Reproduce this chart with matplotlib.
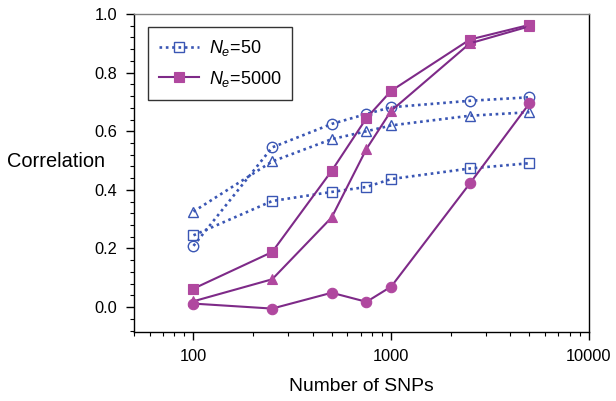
import numpy as np
import matplotlib
matplotlib.use('Agg')
import matplotlib.pyplot as plt
from matplotlib.lines import Line2D
from matplotlib.ticker import FixedLocator, MultipleLocator, NullFormatter

plt.rcParams['font.family'] = 'Liberation Sans'
plt.rcParams['mathtext.fontset'] = 'custom'
plt.rcParams['mathtext.rm'] = 'Liberation Sans'
plt.rcParams['mathtext.it'] = 'Liberation Sans:italic'

snps = [100, 250, 500, 750, 1000, 2500, 5000]

# Ne = 50 (open markers, dotted)
ne50_square = [0.245, 0.362, 0.393, 0.410, 0.437, 0.473, 0.491]
ne50_circle = [0.209, 0.545, 0.625, 0.659, 0.682, 0.704, 0.716]
ne50_triangle = [0.326, 0.497, 0.573, 0.600, 0.620, 0.653, 0.665]

# Ne = 5000 (filled markers, solid)
ne5000_square = [0.063, 0.188, 0.465, 0.645, 0.738, 0.913, 0.963]
ne5000_triangle = [0.020, 0.095, 0.306, 0.540, 0.670, 0.900, 0.958]
ne5000_circle = [0.012, -0.005, 0.049, 0.018, 0.070, 0.422, 0.695]

blue = '#3a56b4'
purple_line = '#7e2a88'
purple_fill = '#b0489f'

fig = plt.figure(figsize=(6.16, 4.01), dpi=100)
ax = fig.add_axes([0.2175, 0.172, 0.7385, 0.793])

dot_style = dict(color=blue, linestyle=(0, (1, 1.4)), linewidth=1.9,
                 markerfacecolor='none', markeredgecolor=blue,
                 markeredgewidth=1.0, zorder=3)
for vals, m, ms in [(ne50_square, 's', 6.5), (ne50_circle, 'o', 7.5),
                    (ne50_triangle, '^', 6.5)]:
    ax.plot(snps, vals, marker=m, markersize=ms, **dot_style)

solid_style = dict(color=purple_line, linestyle='-', linewidth=1.5,
                   markerfacecolor=purple_fill, markeredgecolor=purple_fill,
                   markeredgewidth=0.8, zorder=4)
for vals, m, ms in [(ne5000_square, 's', 6.5), (ne5000_triangle, '^', 6.5),
                    (ne5000_circle, 'o', 7.5)]:
    ax.plot(snps, vals, marker=m, markersize=ms, **solid_style)

ax.set_xscale('log')
ax.set_xlim(50, 10000)
ax.set_ylim(-0.085, 1.0)
ax.set_xticks([100, 1000, 10000])
ax.set_xticklabels(['100', '1000', '10000'])
minors = [v * d for d in (100, 1000) for v in range(2, 10)]
minors = [50, 60, 70, 80, 90] + minors
ax.xaxis.set_minor_locator(FixedLocator(minors))
ax.xaxis.set_minor_formatter(NullFormatter())
ax.yaxis.set_major_locator(FixedLocator([0.0, 0.2, 0.4, 0.6, 0.8, 1.0]))
ax.set_yticklabels(['0.0', '0.2', '0.4', '0.6', '0.8', '1.0'])
ax.yaxis.set_minor_locator(MultipleLocator(0.04))

ax.tick_params(which='major', direction='out', length=6, width=1.0,
               labelsize=11.8, pad=6)
ax.tick_params(which='minor', direction='out', length=3, width=0.8)

ax.spines['top'].set_color('#808080')
for s in ['left', 'bottom', 'right']:
    ax.spines[s].set_color('black')
for s in ax.spines.values():
    s.set_linewidth(1.0)

ax.set_xlabel('Number of SNPs', fontsize=13.9, labelpad=10)
ax.set_ylabel('Correlation', fontsize=14.4, rotation=0, ha='center', va='center')
ax.yaxis.set_label_coords(-0.171, 0.535)

handles = [
    Line2D([], [], marker='s', markersize=6.5, **dot_style),
    Line2D([], [], marker='s', markersize=6.5, **solid_style),
]
leg = ax.legend(handles, [r'$N_e$=50', r'$N_e$=5000'], loc='upper left',
                bbox_to_anchor=(0.031, 0.959), fontsize=13, frameon=True,
                fancybox=False, edgecolor='black', handlelength=2.2,
                handletextpad=0.55, borderpad=0.6, borderaxespad=0,
                labelspacing=0.6, numpoints=1)
leg.get_frame().set_linewidth(1.0)

fig.savefig('out.png', dpi=100)
